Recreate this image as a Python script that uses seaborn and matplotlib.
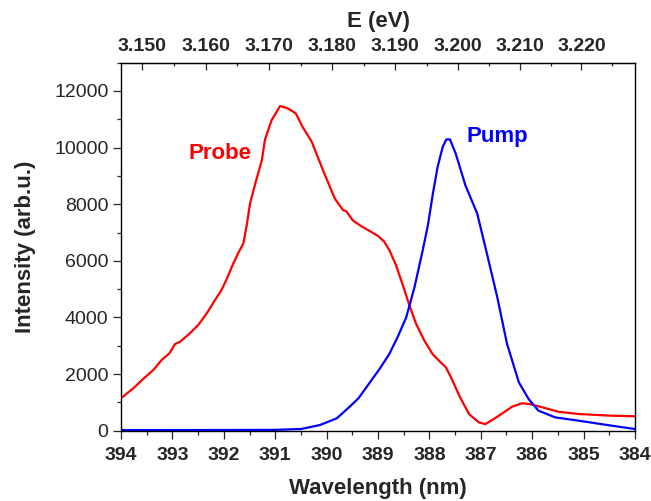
import numpy as np
import pandas as pd
import matplotlib
matplotlib.use("Agg")
import matplotlib.pyplot as plt
import seaborn as sns
from matplotlib.ticker import MultipleLocator, FormatStrFormatter

# probe spectrum (wavelength nm, intensity)
probe_wl = [394.0, 393.76, 393.57, 393.37, 393.21, 393.06, 392.95, 392.85, 392.66, 392.50,
            392.33, 392.17, 392.05, 391.94, 391.83, 391.71, 391.62, 391.55, 391.49, 391.37,
            391.26, 391.20, 391.07, 390.97, 390.905, 390.76, 390.60, 390.47, 390.29, 390.07,
            389.84, 389.68, 389.62, 389.49, 389.33, 389.13, 389.00, 388.88, 388.78, 388.65,
            388.50, 388.39, 388.26, 388.10, 387.94, 387.80, 387.68, 387.58, 387.42, 387.23,
            387.04, 386.91, 386.75, 386.55, 386.39, 386.20, 386.04, 385.81, 385.49, 385.10,
            384.46, 384.0]
probe_int = [1150, 1500, 1830, 2145, 2500, 2730, 3060, 3145, 3440, 3730,
             4150, 4620, 4950, 5370, 5850, 6310, 6610, 7300, 8025, 8850,
             9560, 10270, 10970, 11270, 11470, 11390, 11210, 10740, 10210, 9200,
             8200, 7790, 7760, 7430, 7230, 7020, 6880, 6680, 6380, 5850,
             5050, 4430, 3780, 3190, 2710, 2450, 2240, 1890, 1240, 590,
             295, 235, 410, 650, 850, 970, 940, 830, 670, 590,
             530, 510]

# pump spectrum
pump_wl = [394.0, 392.0, 391.0, 390.5, 390.13, 389.8, 389.55, 389.38, 389.2, 388.97,
           388.78, 388.62, 388.45, 388.29, 388.13, 388.03, 387.93, 387.84, 387.74, 387.67,
           387.60, 387.49, 387.30, 387.07, 386.88, 386.68, 386.49, 386.26, 386.07, 385.88,
           385.55, 385.10, 384.46, 384.0]
pump_int = [20, 25, 30, 60, 200, 440, 850, 1145, 1600, 2180,
            2710, 3300, 4010, 5070, 6370, 7250, 8400, 9320, 10030, 10290,
            10290, 9800, 8670, 7670, 6250, 4720, 3070, 1710, 1120, 710,
            470, 355, 180, 60]

df = pd.concat([
    pd.DataFrame({"wl": probe_wl, "I": probe_int, "beam": "Probe"}),
    pd.DataFrame({"wl": pump_wl, "I": pump_int, "beam": "Pump"}),
])

sns.set_style("ticks")
plt.rcParams["font.family"] = ["Liberation Sans", "DejaVu Sans"]

fig = plt.figure(figsize=(6.51, 5.01), dpi=100)
ax = fig.add_axes([0.1859, 0.1403, 0.9754 - 0.1859, 0.8749 - 0.1403])
sns.lineplot(data=df, x="wl", y="I", hue="beam", palette={"Probe": "#ff0000", "Pump": "#0000ff"},
             linewidth=1.6, legend=False, ax=ax, estimator=None, sort=False)

ax.set_xlim(394, 384)
ax.set_ylim(0, 13000)
ax.xaxis.set_major_locator(MultipleLocator(1))
ax.xaxis.set_minor_locator(MultipleLocator(0.5))
ax.yaxis.set_major_locator(MultipleLocator(2000))
ax.yaxis.set_minor_locator(MultipleLocator(1000))
ax.tick_params(axis="both", which="major", direction="out", length=5.5, width=0.9, labelsize=14)
ax.tick_params(axis="x", which="major", pad=6)
ax.tick_params(axis="both", which="minor", direction="out", length=3, width=0.9)
ax.tick_params(top=False, right=False, which="both")
for lab in ax.get_xticklabels():
    lab.set_fontweight("bold")
for sp in ax.spines.values():
    sp.set_visible(True)
    sp.set_linewidth(1.0)
    sp.set_color("black")

ax.set_xlabel("Wavelength (nm)", fontsize=16, fontweight="bold", labelpad=10)
ax.set_ylabel("Intensity (arb.u.)", fontsize=16, fontweight="bold", labelpad=13)

conv = lambda x: 1239.84 / x
sec = ax.secondary_xaxis("top", functions=(conv, conv))
sec.set_xticks(np.arange(3.150, 3.2201, 0.010))
sec.xaxis.set_minor_locator(MultipleLocator(0.005))
sec.xaxis.set_major_formatter(FormatStrFormatter("%.3f"))
sec.tick_params(which="major", direction="in", length=5, width=0.9, labelsize=14, pad=5.5)
sec.tick_params(which="minor", direction="in", length=2.5, width=0.9)
for lab in sec.get_xticklabels():
    lab.set_fontweight("bold")
sec.set_xlabel("E (eV)", fontsize=16, fontweight="bold", labelpad=8)

ax.text(392.08, 9800, "Probe", color="#ff0000", fontsize=16, fontweight="bold", ha="center", va="center")
ax.text(386.68, 10400, "Pump", color="#0000ff", fontsize=16, fontweight="bold", ha="center", va="center")

fig.savefig("out.png", dpi=100)
